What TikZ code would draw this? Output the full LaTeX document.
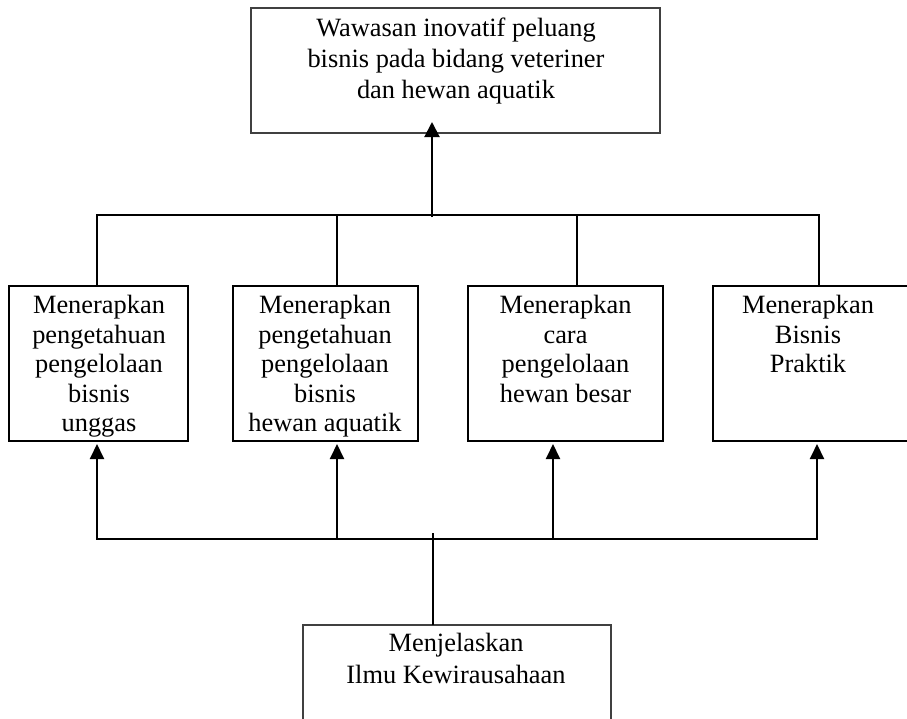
\documentclass[tikz,border=0pt]{standalone}
\usepackage{fontspec}
\setmainfont{Liberation Serif}
\usetikzlibrary{arrows.meta}
\begin{document}
\begin{tikzpicture}[x=1pt,y=-1pt,
  boxthick/.style={draw=black, line width=2pt, rectangle, inner sep=0pt, outer sep=0pt},
  boxthin/.style={draw=black!75, line width=1.3pt, rectangle, inner sep=0pt, outer sep=0pt},
  txt/.style={font=\fontsize{26.4}{29.6}\selectfont, align=center, anchor=north, inner sep=0pt},
  wire/.style={line width=2pt, line join=miter},
  thinwire/.style={line width=1.3pt},
  arr/.style={wire, -{Triangle[width=14pt,length=15pt]}},
]
\useasboundingbox (0,0) rectangle (907,718);

% boxes
\node[boxthin, minimum width=409pt, minimum height=125pt] (top) at (455.5,70.5) {};
\node[boxthick, minimum width=179pt, minimum height=155pt] (b1) at (98.5,363.5) {};
\node[boxthick, minimum width=185pt, minimum height=155pt] (b2) at (325.5,363.5) {};
\node[boxthick, minimum width=195pt, minimum height=155pt] (b3) at (565.5,363.5) {};
\node[boxthick, minimum width=196pt, minimum height=155pt] (b4) at (811,363.5) {};
\node[boxthin, minimum width=308pt, minimum height=110pt] (bot) at (457,680) {};

% texts
\node[txt, font=\fontsize{26.4}{31}\selectfont] (ttop) at (456,18) {Wawasan inovatif peluang\\bisnis pada bidang veteriner\\dan hewan aquatik};
\node[txt] (t1) at (99,295) {Menerapkan\\pengetahuan\\pengelolaan\\bisnis\\unggas};
\node[txt] (t2) at (325,295) {Menerapkan\\pengetahuan\\pengelolaan\\bisnis\\hewan aquatik};
\node[txt] (t3) at (565.5,295) {Menerapkan\\cara\\pengelolaan\\hewan besar};
\node[txt] (t4) at (808,295) {Menerapkan\\Bisnis\\Praktik};
\node[txt, font=\fontsize{26.4}{32}\selectfont] (tbot) at (456,633) {Menjelaskan\\Ilmu Kewirausahaan};

% upper bus
\coordinate (d1) at (97,215);
\coordinate (d2) at (337,215);
\coordinate (d3) at (577,215);
\coordinate (d4) at (819,215);
\draw[wire] (d1 |- b1.north) -- (d1) -- (d4) -- (d4 |- b4.north);
\draw[wire] (d2) -- (d2 |- b2.north);
\draw[wire] (d3) -- (d3 |- b3.north);

% arrow to top box
\coordinate (ta) at (432,217);
\coordinate (tatip) at (432,122);
\draw[wire, -{Triangle[width=15pt,length=15pt]}] (ta) -- (tatip);

% lower bus with arrows
\coordinate (a1) at (97,539);
\coordinate (a2) at (337,539);
\coordinate (a3) at (553,539);
\coordinate (a4) at (817,539);
\coordinate (a1t) at (97,444);
\coordinate (a2t) at (337,444);
\coordinate (a3t) at (553,444);
\coordinate (a4t) at (817,444);
\draw[wire, {Triangle[width=14pt,length=15pt]}-{Triangle[width=14pt,length=15pt]}] (a1t) -- (a1) -- (a4) -- (a4t);
\draw[arr] (a2) -- (a2t);
\draw[arr] (a3) -- (a3t);

% line from bottom box
\coordinate (bl) at (433,533);
\draw[thinwire] (bl) -- (bl |- bot.north);
\end{tikzpicture}
\end{document}
